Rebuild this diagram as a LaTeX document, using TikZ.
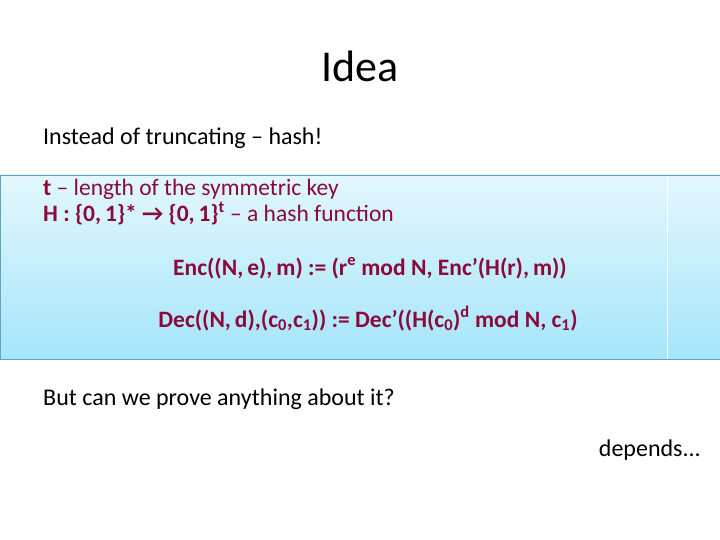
\documentclass[tikz,border=0pt]{standalone}
\usepackage{fontspec}
\setmainfont{Carlito}
\definecolor{dred}{HTML}{8B0A3A}
\definecolor{boxtop}{HTML}{E2F7FD}
\definecolor{boxbot}{HTML}{A6E5FA}
\definecolor{boxline}{HTML}{5FA5C2}
\begin{document}
\begin{tikzpicture}[x=1pt,y=-1pt,
  body/.style={font=\fontsize{24}{28}\selectfont, inner sep=0pt},
  red/.style={body, text=dred, font=\fontsize{23.5}{27}\selectfont\bfseries}]
\useasboundingbox (0,0) rectangle (720,540);
\fill[white] (0,0) rectangle (720,540);
\shade[top color=boxtop,bottom color=boxbot] (0,175) rectangle (720,359);
\draw[white,line width=1pt] (667,175) -- (667,359);
\draw[boxline,line width=0.8pt] (0,175) rectangle (720,359);
\node[inner sep=0pt,anchor=base, font=\fontsize{44}{48}\selectfont] (title) at (360,82) {Idea};
\node[body,anchor=base west] (l1) at (43,145) {Instead of truncating -- hash!};
\node[red,anchor=base west] (l2) at (43,196) {t \textmd{-- length of the symmetric key}};
\node[red,anchor=base west] (l3) at (43,222) {H : \{0,\,1\}* \char"2192\ \{0,\,1\}\textsuperscript{t} \textmd{-- a hash function}};
\node[red,anchor=base] (enc) at (370,275) {Enc((N,\,e),\,m) := (r\textsuperscript{e} mod N, Enc’(H(r),\,m))};
\node[red,anchor=base] (dec) at (368,327) {Dec((N,\,d),(c\textsubscript{0},c\textsubscript{1})) := Dec’((H(c\textsubscript{0})\textsuperscript{d} mod N, c\textsubscript{1})};
\node[body,anchor=base west] (l4) at (43,405) {But can we prove anything about it?};
\node[body,anchor=base east] (l5) at (701,456) {depends...};
\end{tikzpicture}
\end{document}
